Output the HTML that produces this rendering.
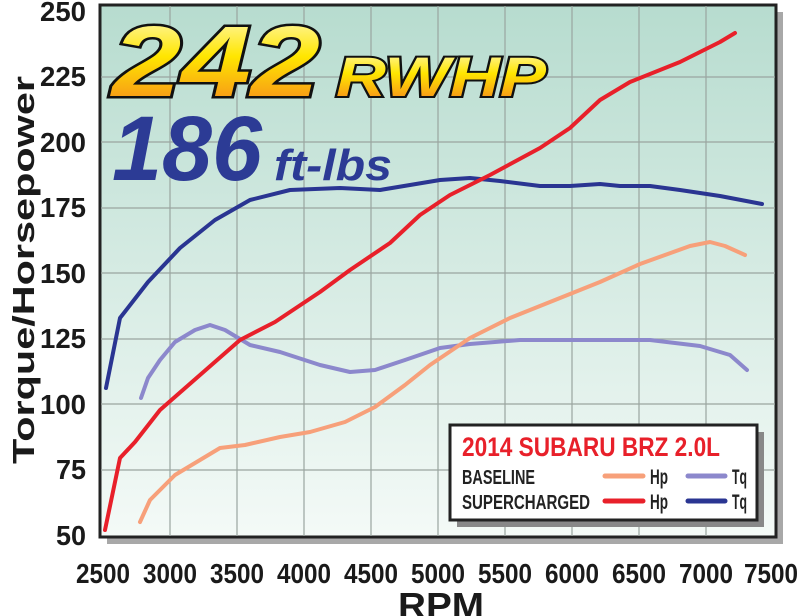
<!DOCTYPE html>
<html><head><meta charset="utf-8"><style>
html,body{margin:0;padding:0;background:#fff;width:800px;height:616px;overflow:hidden}
text{font-family:"Liberation Sans",sans-serif;font-weight:bold}
</style></head><body>
<svg width="800" height="616" viewBox="0 0 800 616" xmlns="http://www.w3.org/2000/svg">
<defs>
<linearGradient id="bg" x1="0" y1="0" x2="0" y2="1">
<stop offset="0" stop-color="#b7dccf"/><stop offset="1" stop-color="#f4faf7"/></linearGradient>
<linearGradient id="gold" x1="0" y1="0" x2="0" y2="1">
<stop offset="0" stop-color="#fffbd0"/><stop offset="0.45" stop-color="#ffe600"/><stop offset="1" stop-color="#f47a20"/></linearGradient>
</defs>
<rect x="107" y="12" width="676" height="532" fill="#a8a8a8"/>
<rect x="100" y="5" width="676" height="532" fill="url(#bg)" stroke="#222" stroke-width="3"/>
<g stroke="#9aa5a0" stroke-width="1.2">
<line x1="170" y1="6" x2="170" y2="536"/><line x1="237" y1="6" x2="237" y2="536"/><line x1="304" y1="6" x2="304" y2="536"/><line x1="371" y1="6" x2="371" y2="536"/><line x1="438" y1="6" x2="438" y2="536"/><line x1="505" y1="6" x2="505" y2="536"/><line x1="572" y1="6" x2="572" y2="536"/><line x1="639" y1="6" x2="639" y2="536"/><line x1="706" y1="6" x2="706" y2="536"/>
<line x1="101" y1="77" x2="775" y2="77"/><line x1="101" y1="142" x2="775" y2="142"/><line x1="101" y1="208" x2="775" y2="208"/><line x1="101" y1="273" x2="775" y2="273"/><line x1="101" y1="339" x2="775" y2="339"/><line x1="101" y1="404" x2="775" y2="404"/><line x1="101" y1="470" x2="775" y2="470"/>
</g>
<g fill="none" stroke-width="4" stroke-linecap="round" stroke-linejoin="round">
<polyline stroke="#8c88cc" points="141,398 148,378 160,360 175,342 195,330 210,325 225,330 250,345 280,352 320,365 350,372 375,370 405,360 440,348 470,344 520,340 600,340 650,340 700,346 730,355 747,370"/>
<polyline stroke="#f7a07a" points="140,522 150,500 175,475 200,460 220,448 245,445 280,437 310,432 345,422 375,407 405,385 430,365 470,338 510,318 550,302 600,282 640,264 690,246 710,242 725,246 745,255"/>
<polyline stroke="#2a3592" points="106,388 120,318 148,282 180,248 215,220 250,200 290,190 340,188 380,190 410,185 440,180 470,178 500,181 540,186 570,186 600,184 620,186 650,186 680,190 720,196 762,204"/>
<polyline stroke="#e8202a" points="105,530 120,458 135,442 160,410 200,375 240,340 275,322 320,292 350,270 390,243 420,215 450,195 490,175 540,148 570,128 600,100 630,82 680,62 720,42 735,33"/>
</g>
<g font-style="italic">
<text x="112" y="96" font-size="100" textLength="208" lengthAdjust="spacingAndGlyphs" fill="url(#gold)" stroke="#111" stroke-width="5" paint-order="stroke">242</text>
<text x="336" y="96" font-size="56" textLength="210" lengthAdjust="spacingAndGlyphs" fill="url(#gold)" stroke="#111" stroke-width="4" paint-order="stroke">RWHP</text>
<text x="112" y="180" font-size="92" textLength="150" lengthAdjust="spacingAndGlyphs" fill="#2c3b95">186</text>
<text x="274" y="180" font-size="44" textLength="118" lengthAdjust="spacingAndGlyphs" fill="#2c3b95">ft-lbs</text>
</g>
<rect x="457" y="432" width="307" height="95" fill="#888"/>
<rect x="450" y="425" width="307" height="95" fill="#fff" stroke="#222" stroke-width="3"/>
<text x="462" y="456" font-size="27" textLength="258" lengthAdjust="spacingAndGlyphs" fill="#e8202a">2014 SUBARU BRZ 2.0L</text>
<text x="462" y="484" font-size="20" textLength="73" lengthAdjust="spacingAndGlyphs" fill="#222">BASELINE</text>
<text x="462" y="509" font-size="20" textLength="128" lengthAdjust="spacingAndGlyphs" fill="#222">SUPERCHARGED</text>
<g stroke-width="5" stroke-linecap="round">
<line x1="605" y1="476" x2="643" y2="476" stroke="#f7a07a"/><line x1="688" y1="476" x2="725" y2="476" stroke="#8c88cc"/>
<line x1="605" y1="501" x2="643" y2="501" stroke="#e8202a"/><line x1="688" y1="501" x2="725" y2="501" stroke="#2a3592"/>
</g>
<g font-size="21" fill="#222"><text x="650" y="484" textLength="18" lengthAdjust="spacingAndGlyphs">Hp</text><text x="732" y="484" textLength="15" lengthAdjust="spacingAndGlyphs">Tq</text><text x="650" y="509" textLength="18" lengthAdjust="spacingAndGlyphs">Hp</text><text x="732" y="509" textLength="15" lengthAdjust="spacingAndGlyphs">Tq</text></g>
<g font-size="28" fill="#1a1a1a">
<text x="40" y="21" textLength="46" lengthAdjust="spacingAndGlyphs">250</text><text x="40" y="86" textLength="46" lengthAdjust="spacingAndGlyphs">225</text><text x="40" y="152" textLength="46" lengthAdjust="spacingAndGlyphs">200</text><text x="40" y="217" textLength="46" lengthAdjust="spacingAndGlyphs">175</text><text x="40" y="283" textLength="46" lengthAdjust="spacingAndGlyphs">150</text><text x="40" y="348" textLength="46" lengthAdjust="spacingAndGlyphs">125</text><text x="40" y="414" textLength="46" lengthAdjust="spacingAndGlyphs">100</text><text x="56" y="479" textLength="30" lengthAdjust="spacingAndGlyphs">75</text><text x="56" y="545" textLength="30" lengthAdjust="spacingAndGlyphs">50</text>
</g>
<g font-size="28" fill="#1a1a1a">
<text x="76" y="583" textLength="54" lengthAdjust="spacingAndGlyphs">2500</text><text x="143" y="583" textLength="54" lengthAdjust="spacingAndGlyphs">3000</text><text x="210" y="583" textLength="54" lengthAdjust="spacingAndGlyphs">3500</text><text x="277" y="583" textLength="54" lengthAdjust="spacingAndGlyphs">4000</text><text x="344" y="583" textLength="54" lengthAdjust="spacingAndGlyphs">4500</text><text x="411" y="583" textLength="54" lengthAdjust="spacingAndGlyphs">5000</text><text x="478" y="583" textLength="54" lengthAdjust="spacingAndGlyphs">5500</text><text x="545" y="583" textLength="54" lengthAdjust="spacingAndGlyphs">6000</text><text x="612" y="583" textLength="54" lengthAdjust="spacingAndGlyphs">6500</text><text x="679" y="583" textLength="54" lengthAdjust="spacingAndGlyphs">7000</text><text x="744" y="583" textLength="54" lengthAdjust="spacingAndGlyphs">7500</text>
</g>
<text x="398" y="618" font-size="36" textLength="86" lengthAdjust="spacingAndGlyphs" fill="#1a1a1a">RPM</text>
<text transform="translate(34,464) rotate(-90)" font-size="31" textLength="388" lengthAdjust="spacingAndGlyphs" fill="#1a1a1a">Torque/Horsepower</text>
</svg>
</body></html>
